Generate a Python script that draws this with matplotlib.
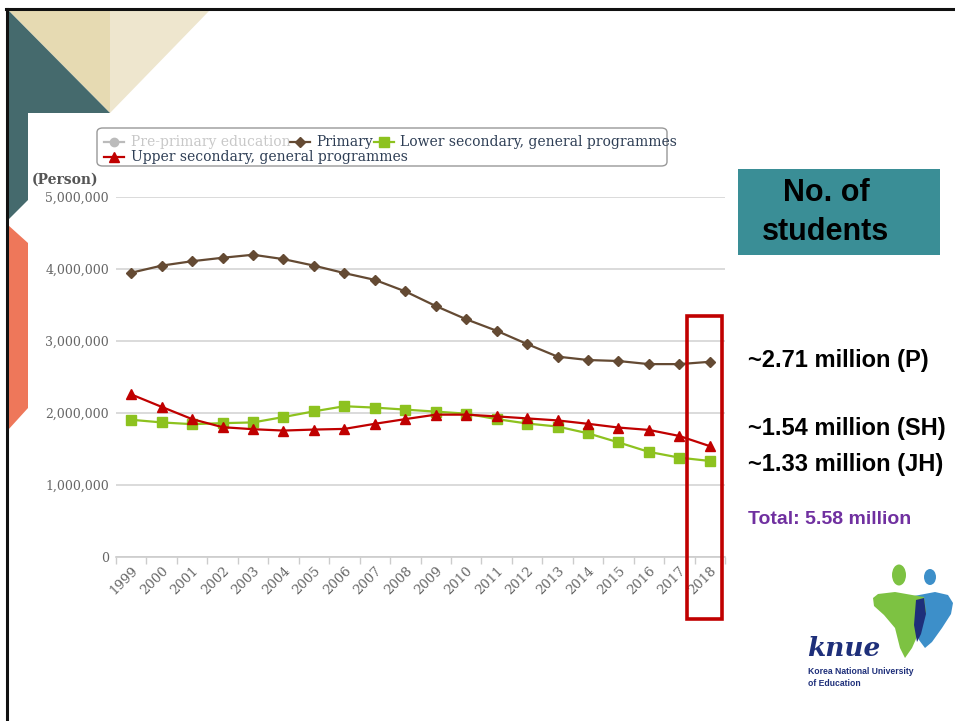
import matplotlib
matplotlib.use("Agg")
import matplotlib.pyplot as plt
from matplotlib.patches import Polygon, Rectangle, FancyBboxPatch, Ellipse
from matplotlib.lines import Line2D

# ---------------- data ----------------
years = [str(y) for y in range(1999, 2019)]
primary = [3.948, 4.047, 4.108, 4.156, 4.198, 4.137, 4.047, 3.943, 3.849, 3.689,
           3.486, 3.302, 3.142, 2.958, 2.783, 2.736, 2.722, 2.679, 2.679, 2.711]
lower_sec = [1.906, 1.869, 1.845, 1.859, 1.869, 1.944, 2.023, 2.094, 2.075, 2.047,
             2.019, 1.991, 1.915, 1.854, 1.812, 1.718, 1.592, 1.460, 1.380, 1.334]
upper_sec = [2.258, 2.085, 1.915, 1.803, 1.775, 1.756, 1.770, 1.779, 1.850, 1.915,
             1.977, 1.977, 1.953, 1.925, 1.897, 1.850, 1.798, 1.765, 1.681, 1.540]
primary = [v * 1e6 for v in primary]
lower_sec = [v * 1e6 for v in lower_sec]
upper_sec = [v * 1e6 for v in upper_sec]
yticks = [0, 1000000, 2000000, 3000000, 4000000, 5000000]
legend_labels = ["Pre-primary education", "Primary",
                 "Lower secondary, general programmes",
                 "Upper secondary, general programmes"]
side_notes = ["~2.71 million (P)", "~1.54 million (SH)", "~1.33 million (JH)"]
total_note = "Total: 5.58 million"

W, H = 955, 721
fig = plt.figure(figsize=(W / 100, H / 100), dpi=100)
fig.patch.set_facecolor("white")


def P(x, y):
    return (x / W, 1 - y / H)


def poly(pts, color, z=0):
    fig.patches.append(Polygon([P(*p) for p in pts], closed=True, facecolor=color,
                               edgecolor="none", transform=fig.transFigure, zorder=z))


# slide decorations
poly([(8, 10), (110, 10), (110, 113)], "#E6DAB2")
poly([(110, 10), (210, 10), (110, 113)], "#EEE6CE")
poly([(8, 10), (110, 113), (28, 113), (28, 200), (8, 220)], "#456A6D")
poly([(8, 225), (28, 243), (28, 408), (8, 430)], "#EE775A")
fig.add_artist(Line2D([P(7, 9)[0], P(7, 721)[0]], [P(7, 9)[1], P(7, 721)[1]],
                      color="#111111", lw=2.2, transform=fig.transFigure))
fig.add_artist(Line2D([P(6, 9)[0], P(955, 9)[0]], [P(6, 9)[1], P(955, 9)[1]],
                      color="#111111", lw=2.2, transform=fig.transFigure))

# ---------------- chart ----------------
ax_l, ax_r, ax_t, ax_b = 116, 725, 197, 557
ax = fig.add_axes([ax_l / W, 1 - ax_b / H, (ax_r - ax_l) / W, (ax_b - ax_t) / H])
ax.set_facecolor("none")
x = list(range(len(years)))
c_prim, c_low, c_up = "#644A33", "#8DC21F", "#C00000"
ax.plot(x, primary, color=c_prim, lw=1.6, marker="D", ms=5, zorder=3)
ax.plot(x, lower_sec, color=c_low, lw=1.6, marker="s", ms=7, zorder=3)
ax.plot(x, upper_sec, color=c_up, lw=1.6, marker="^", ms=7, zorder=4)
ax.set_xlim(-0.5, len(years) - 0.5)
ax.set_ylim(0, 5000000)
ax.set_yticks(yticks)
ax.set_yticklabels([f"{v:,}" for v in yticks], family="DejaVu Serif", fontsize=9,
                   color="#666666")
ax.yaxis.grid(True, color="#D4D4D4", lw=1.2)
ax.set_axisbelow(True)
for s in ["top", "right", "left"]:
    ax.spines[s].set_visible(False)
ax.spines["bottom"].set_color("#CCCCCC")
ax.spines["bottom"].set_linewidth(1.2)
ax.tick_params(axis="y", length=0, pad=5)
ax.set_xticks([i - 0.5 for i in range(len(years) + 1)])
ax.set_xticklabels([])
ax.tick_params(axis="x", length=5, color="#CCCCCC", width=1)
ax.set_xticks(x, minor=True)
ax.set_xticklabels(years, minor=True, rotation=45, ha="right", va="top",
                   rotation_mode="anchor", family="DejaVu Serif", fontsize=9.5,
                   color="#666666")
ax.tick_params(axis="x", which="minor", length=0, pad=5)
fig.text(*P(32, 180), "(Person)", family="DejaVu Serif", fontweight="bold",
         fontsize=10, color="#555555", va="center", ha="left")

# ---------------- legend (flow layout) ----------------
fig.patches.append(FancyBboxPatch(P(97, 166), 570 / W, 38 / H,
                                  boxstyle="round,pad=0,rounding_size=0.006",
                                  facecolor="white", edgecolor="#999999", lw=1,
                                  transform=fig.transFigure, zorder=1))
leg_items = [
    (legend_labels[0], "#BBBBBB", "o", 6, 104, 131, 142, "#C8C8C8"),
    (legend_labels[1], c_prim, "D", 5, 290, 316, 142, "#2E3E55"),
    (legend_labels[2], c_low, "s", 7, 374, 400, 142, "#2E3E55"),
    (legend_labels[3], c_up, "^", 7, 104, 131, 157, "#2E3E55"),
]
for lab, col, mk, ms, hx, tx, ty, tc in leg_items:
    (x0, yy), (x1, _) = P(hx, ty), P(hx + 20, ty)
    fig.add_artist(Line2D([x0, (x0 + x1) / 2, x1], [yy, yy, yy], color=col,
                          lw=1.6, marker=mk, ms=ms, markevery=[1],
                          transform=fig.transFigure, zorder=2))
    fig.text(*P(tx, ty), lab, family="DejaVu Serif", fontsize=10, color=tc,
             va="center", ha="left", zorder=3)

# ---------------- right side annotations ----------------
fig.patches.append(Rectangle(P(738, 255), 202 / W, 86 / H, facecolor="#3A8E96",
                             edgecolor="none", transform=fig.transFigure))
fig.text(*P(826, 193), "No. of", family="Liberation Sans", fontweight="bold",
         fontsize=22, color="black", ha="center", va="center")
fig.text(*P(826, 232), "students", family="Liberation Sans", fontweight="bold",
         fontsize=22, color="black", ha="center", va="center")
for note, yy in zip(side_notes, [360, 429, 465]):
    fig.text(*P(748, yy), note, family="Liberation Sans", fontweight="bold",
             fontsize=17, color="black", ha="left", va="center")
fig.text(*P(748, 520), total_note, family="Liberation Sans", fontweight="bold",
         fontsize=14, color="#7030A0", ha="left", va="center")

# highlight box
fig.patches.append(Rectangle(P(687, 619), 35 / W, 303 / H, facecolor="none",
                             edgecolor="#C00000", lw=2.6, transform=fig.transFigure,
                             zorder=5))

# ---------------- logo (approximation) ----------------
fig.patches.append(Ellipse(P(899, 575), 14 / W, 21 / H, facecolor="#7DC242",
                           edgecolor="none", transform=fig.transFigure))
fig.patches.append(Ellipse(P(930, 577), 12 / W, 16 / H, facecolor="#3D8FC9",
                           edgecolor="none", transform=fig.transFigure))
poly([(914, 596), (935, 592), (948, 595), (953, 603), (951, 614), (942, 628),
      (932, 642), (925, 648), (919, 640), (914, 615)], "#3D8FC9")
poly([(878, 594), (895, 592), (912, 595), (924, 597), (926, 612), (920, 630),
      (912, 648), (905, 658), (900, 648), (895, 628), (884, 615), (874, 606),
      (873, 598)], "#7DC242")
poly([(916, 600), (924, 598), (926, 614), (921, 634), (917, 642), (914, 625)],
     "#1E2F7A")
fig.text(*P(807, 656), "knue", family="DejaVu Serif", fontstyle="italic",
         fontweight="bold", fontsize=19, color="#1E2F7A", ha="left", va="baseline")
fig.text(*P(808, 671), "Korea National University", family="Liberation Sans",
         fontweight="bold", fontsize=6.2, color="#1E2F7A", ha="left", va="center")
fig.text(*P(808, 684), "of Education", family="Liberation Sans",
         fontweight="bold", fontsize=6.2, color="#1E2F7A", ha="left", va="center")

fig.savefig("out.png", dpi=100)
